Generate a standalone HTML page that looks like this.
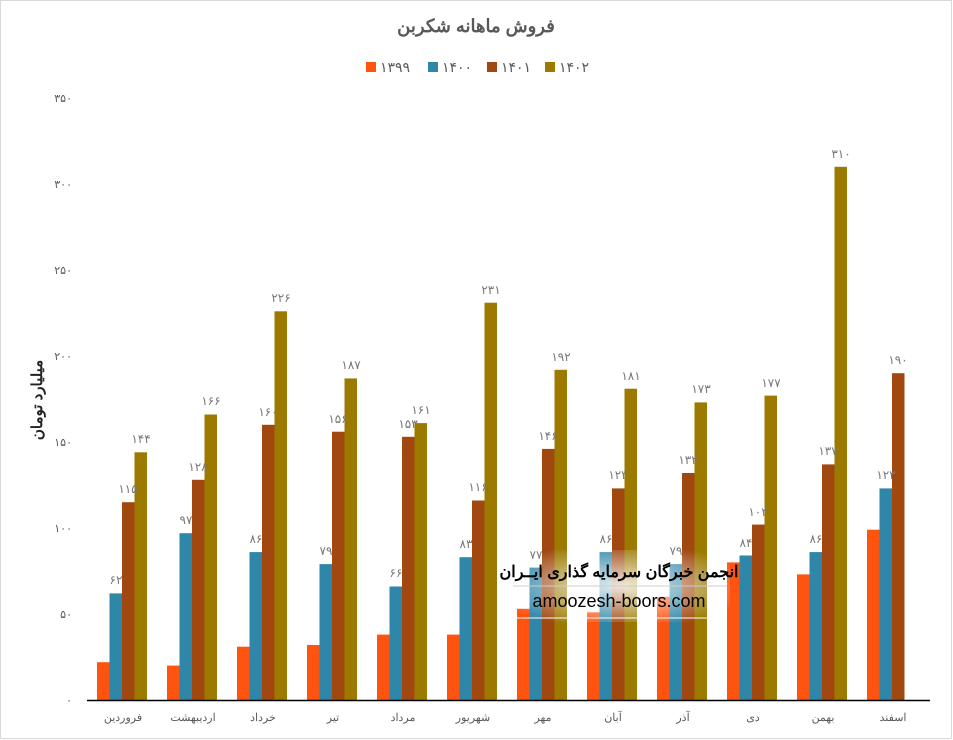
<!DOCTYPE html>
<html><head><meta charset="utf-8"><style>
html,body{margin:0;padding:0;background:#fff}
svg{display:block}
text{font-family:"Liberation Sans","Noto Sans CJK SC",sans-serif}
</style></head><body>
<svg width="953" height="740" viewBox="0 0 953 740" xmlns="http://www.w3.org/2000/svg">
<rect x="0.5" y="0.5" width="951" height="738" fill="#fff" stroke="#d9d9d9"/>
<text x="476" y="32" text-anchor="middle" font-size="18" font-weight="bold" fill="#595959">فروش ماهانه شکربن</text>
<g font-size="14" fill="#595959">
<rect x="366" y="62" width="10" height="10" fill="#FF5310"/><text x="380" y="72">۱۳۹۹</text>
<rect x="428" y="62" width="10" height="10" fill="#2E86A8"/><text x="442" y="72">۱۴۰۰</text>
<rect x="487" y="62" width="10" height="10" fill="#A0480F"/><text x="501" y="72">۱۴۰۱</text>
<rect x="545" y="62" width="10" height="10" fill="#9C7A00"/><text x="559" y="72">۱۴۰۲</text>
</g>
<g font-size="11" fill="#595959" text-anchor="end">
<text x="72" y="704">۰</text><text x="72" y="618">۵۰</text><text x="72" y="532">۱۰۰</text>
<text x="72" y="446">۱۵۰</text><text x="72" y="360">۲۰۰</text><text x="72" y="274">۲۵۰</text>
<text x="72" y="188">۳۰۰</text><text x="72" y="102">۳۵۰</text>
</g>
<text transform="translate(42,400) rotate(-90)" text-anchor="middle" font-size="15" font-weight="bold" fill="#222">میلیارد تومان</text>
<g transform="translate(0,700) scale(1,-1)">
<g fill="#FF5310">
<rect x="97" y="0" width="12.5" height="37.8"/><rect x="167" y="0" width="12.5" height="34.4"/><rect x="237" y="0" width="12.5" height="53.3"/><rect x="307" y="0" width="12.5" height="55"/><rect x="377" y="0" width="12.5" height="65.4"/><rect x="447" y="0" width="12.5" height="65.4"/><rect x="517" y="0" width="12.5" height="91.2"/><rect x="587" y="0" width="12.5" height="87.7"/><rect x="657" y="0" width="12.5" height="103.2"/><rect x="727" y="0" width="12.5" height="137.6"/><rect x="797" y="0" width="12.5" height="125.6"/><rect x="867" y="0" width="12.5" height="170.3"/>
</g>
<g fill="#2E86A8">
<rect x="109.5" y="0" width="12.5" height="106.6"/><rect x="179.5" y="0" width="12.5" height="166.8"/><rect x="249.5" y="0" width="12.5" height="147.9"/><rect x="319.5" y="0" width="12.5" height="135.9"/><rect x="389.5" y="0" width="12.5" height="113.5"/><rect x="459.5" y="0" width="12.5" height="142.8"/><rect x="529.5" y="0" width="12.5" height="132.4"/><rect x="599.5" y="0" width="12.5" height="147.9"/><rect x="669.5" y="0" width="12.5" height="135.9"/><rect x="739.5" y="0" width="12.5" height="144.5"/><rect x="809.5" y="0" width="12.5" height="147.9"/><rect x="879.5" y="0" width="12.5" height="211.6"/>
</g>
<g fill="#A0480F">
<rect x="122" y="0" width="12.5" height="197.8"/><rect x="192" y="0" width="12.5" height="220.2"/><rect x="262" y="0" width="12.5" height="275.2"/><rect x="332" y="0" width="12.5" height="268.3"/><rect x="402" y="0" width="12.5" height="263.2"/><rect x="472" y="0" width="12.5" height="199.5"/><rect x="542" y="0" width="12.5" height="251.1"/><rect x="612" y="0" width="12.5" height="211.6"/><rect x="682" y="0" width="12.5" height="227"/><rect x="752" y="0" width="12.5" height="175.4"/><rect x="822" y="0" width="12.5" height="235.6"/><rect x="892" y="0" width="12.5" height="326.8"/>
</g>
<g fill="#9C7A00">
<rect x="134.5" y="0" width="12.5" height="247.7"/><rect x="204.5" y="0" width="12.5" height="285.5"/><rect x="274.5" y="0" width="12.5" height="388.7"/><rect x="344.5" y="0" width="12.5" height="321.6"/><rect x="414.5" y="0" width="12.5" height="276.9"/><rect x="484.5" y="0" width="12.5" height="397.3"/><rect x="554.5" y="0" width="12.5" height="330.2"/><rect x="624.5" y="0" width="12.5" height="311.3"/><rect x="694.5" y="0" width="12.5" height="297.6"/><rect x="764.5" y="0" width="12.5" height="304.4"/><rect x="834.5" y="0" width="12.5" height="533.2"/>
</g>
</g>
<line x1="87" y1="700.5" x2="930" y2="700.5" stroke="#000" stroke-width="1.5"/>
<g font-size="12" fill="#777" text-anchor="middle">
<text x="116" y="584">۶۲</text><text x="128" y="493">۱۱۵</text><text x="141" y="443">۱۴۴</text>
<text x="186" y="524">۹۷</text><text x="198" y="471">۱۲۸</text><text x="211" y="405">۱۶۶</text>
<text x="256" y="543">۸۶</text><text x="268" y="416">۱۶۰</text><text x="281" y="302">۲۲۶</text>
<text x="326" y="555">۷۹</text><text x="338" y="423">۱۵۶</text><text x="351" y="369">۱۸۷</text>
<text x="396" y="577">۶۶</text><text x="408" y="428">۱۵۳</text><text x="421" y="414">۱۶۱</text>
<text x="466" y="548">۸۳</text><text x="478" y="491">۱۱۶</text><text x="491" y="294">۲۳۱</text>
<text x="536" y="559">۷۷</text><text x="548" y="440">۱۴۶</text><text x="561" y="361">۱۹۲</text>
<text x="606" y="543">۸۶</text><text x="618" y="479">۱۲۳</text><text x="631" y="380">۱۸۱</text>
<text x="676" y="555">۷۹</text><text x="688" y="464">۱۳۲</text><text x="701" y="393">۱۷۳</text>
<text x="746" y="547">۸۴</text><text x="758" y="516">۱۰۲</text><text x="771" y="387">۱۷۷</text>
<text x="816" y="543">۸۶</text><text x="828" y="455">۱۳۷</text><text x="841" y="158">۳۱۰</text>
<text x="886" y="479">۱۲۳</text><text x="898" y="364">۱۹۰</text>
</g>
<g font-size="11" fill="#595959" text-anchor="middle">
<text x="123" y="721">فروردین</text><text x="193" y="721">اردیبهشت</text><text x="263" y="721">خرداد</text><text x="333" y="721">تیر</text><text x="403" y="721">مرداد</text><text x="473" y="721">شهریور</text><text x="543" y="721">مهر</text><text x="613" y="721">آبان</text><text x="683" y="721">آذر</text><text x="753" y="721">دی</text><text x="823" y="721">بهمن</text><text x="893" y="721">اسفند</text>
</g>
<defs><radialGradient id="wm" cx="50%" cy="50%" r="60%"><stop offset="0" stop-color="#fff" stop-opacity="0.85"/><stop offset="1" stop-color="#fff" stop-opacity="0"/></radialGradient></defs>
<rect x="510" y="550" width="220" height="72" fill="url(#wm)"/>
<line x1="513" y1="586" x2="727" y2="586" stroke="#ccc"/>
<line x1="513" y1="618" x2="710" y2="618" stroke="#fff"/>
<text x="619" y="577" text-anchor="middle" font-size="16" font-weight="bold" fill="#000">انجمن خبرگان سرمایه گذاری ایــران</text>
<text x="619" y="607" text-anchor="middle" font-size="18" font-family="Liberation Serif,serif" fill="#000">amoozesh-boors.com</text>
</svg>
</body></html>
